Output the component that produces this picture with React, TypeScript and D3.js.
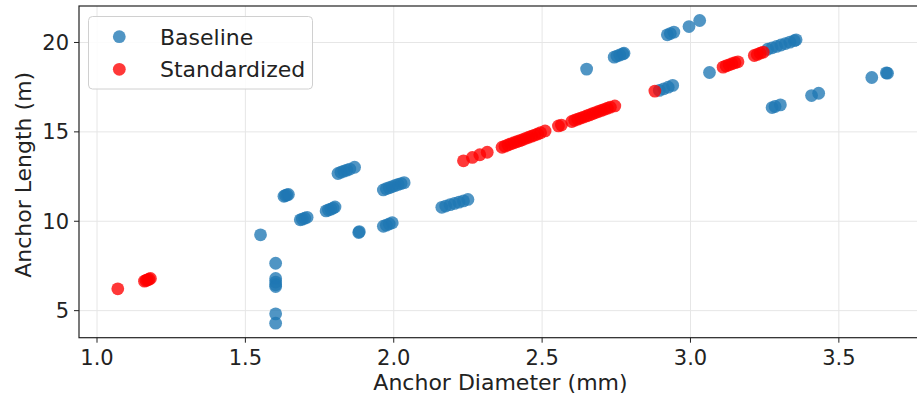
import React from "react";
import * as d3 from "d3";

const baselineX = [
  1.551, 1.602, 1.602, 1.602, 1.602, 1.602, 1.602, 1.602,
  1.63, 1.635, 1.64, 1.645,
  1.685, 1.692, 1.7, 1.708,
  1.772, 1.78, 1.788, 1.796, 1.802,
  1.812, 1.822, 1.832, 1.842, 1.852, 1.868,
  1.882, 1.884,
  1.965, 1.975, 1.985, 1.995,
  1.965, 1.975, 1.985, 1.995, 2.005, 2.015, 2.025, 2.035,
  2.162, 2.175, 2.19, 2.205, 2.22, 2.235, 2.25,
  2.65,
  2.743, 2.752, 2.762, 2.772, 2.776,
  2.922, 2.932, 2.944,
  2.995, 3.031,
  2.895, 2.91, 2.925, 2.94,
  3.064,
  3.26, 3.275, 3.29, 3.305, 3.32, 3.335, 3.35, 3.356,
  3.275, 3.285, 3.303,
  3.408, 3.432,
  3.611, 3.66, 3.664,
];
const baselineY = [
  9.24, 7.65, 6.8, 6.6, 6.45, 6.35, 4.82, 4.3,
  11.4, 11.44, 11.47, 11.5,
  10.08, 10.12, 10.17, 10.22,
  10.58, 10.63, 10.68, 10.74, 10.8,
  12.67, 12.74, 12.8, 12.86, 12.92, 13.02,
  9.37, 9.42,
  9.72, 9.78, 9.85, 9.92,
  11.75, 11.82, 11.88, 11.94, 12.0, 12.06, 12.11, 12.16,
  10.78, 10.85, 10.93, 11.0, 11.07, 11.14, 11.22,
  18.51,
  19.18, 19.24, 19.3, 19.36, 19.4,
  20.43, 20.5, 20.58,
  20.89, 21.23,
  17.32, 17.41, 17.5, 17.6,
  18.32,
  19.62, 19.7, 19.78, 19.86, 19.94, 20.02, 20.1, 20.15,
  16.36, 16.42, 16.51,
  17.03, 17.16,
  18.04, 18.3, 18.28,
];

const standardizedX = [
  1.07,
  1.16, 1.165, 1.17, 1.175, 1.18,
  2.235, 2.265, 2.29, 2.315,
  2.365, 2.375, 2.385, 2.395, 2.405, 2.415, 2.425, 2.435, 2.445, 2.455, 2.465, 2.475, 2.485, 2.495, 2.51,
  2.555, 2.565,
  2.6, 2.61, 2.62, 2.63, 2.64, 2.65, 2.66, 2.67, 2.68, 2.69, 2.7, 2.71, 2.72, 2.73, 2.745,
  2.88,
  3.11, 3.12, 3.13, 3.14, 3.15, 3.16,
  3.215, 3.225, 3.235, 3.245,
];
const standardizedY = [
  6.22,
  6.65, 6.69, 6.72, 6.76, 6.8,
  13.38, 13.57, 13.72, 13.86,
  14.14, 14.2, 14.27, 14.33, 14.39, 14.45, 14.51, 14.57, 14.64, 14.7, 14.76, 14.82, 14.88, 14.95, 15.05,
  15.33, 15.38,
  15.58, 15.65, 15.71, 15.77, 15.83, 15.89, 15.95, 16.02, 16.08, 16.14, 16.2, 16.26, 16.32, 16.38, 16.45,
  17.28,
  18.62, 18.69, 18.75, 18.81, 18.87, 18.92,
  19.27, 19.33, 19.4, 19.46,
];

const xTicks = [1.0, 1.5, 2.0, 2.5, 3.0, 3.5];
const yTicks = [5, 10, 15, 20];
const seriesNames = ["Baseline", "Standardized"];

const W = 917;
const H = 398;
const L = 79;
const R = 926;
const T = 6;
const B = 337.7;
const FONT = "'DejaVu Sans', sans-serif";
const BLUE = "#1f77b4";
const RED = "#ff0000";
const ALPHA = 0.78;
const RAD = 6.4;
const TICK_FS = 21;
const LABEL_FS = 22;

export default function App() {
  const x = d3.scaleLinear().domain([0.9393, 3.7937]).range([L, R]);
  const y = d3.scaleLinear().domain([3.487, 22.04]).range([B, T]);
  const base = baselineX.map((v, i) => [v, baselineY[i]]);
  const std = standardizedX.map((v, i) => [v, standardizedY[i]]);
  return (
    <svg width={W} height={H} style={{ position: "absolute", left: 0, top: 0, background: "#fff" }} fontFamily={FONT}>
      <rect x={0} y={0} width={W} height={H} fill="#fff" />
      {xTicks.map((t) => (
        <line key={"gx" + t} x1={x(t)} x2={x(t)} y1={T} y2={B} stroke="#e6e6e6" strokeWidth={1} />
      ))}
      {yTicks.map((t) => (
        <line key={"gy" + t} x1={L} x2={R} y1={y(t)} y2={y(t)} stroke="#e6e6e6" strokeWidth={1} />
      ))}
      {base.map((d, i) => (
        <circle key={"b" + i} cx={x(d[0])} cy={y(d[1])} r={RAD} fill={BLUE} fillOpacity={ALPHA} />
      ))}
      {std.map((d, i) => (
        <circle key={"s" + i} cx={x(d[0])} cy={y(d[1])} r={RAD} fill={RED} fillOpacity={ALPHA} />
      ))}
      <rect x={L} y={T} width={R - L} height={B - T} fill="none" stroke="#222" strokeWidth={1.2} />
      {xTicks.map((t) => (
        <g key={"xt" + t}>
          <line x1={x(t)} x2={x(t)} y1={B} y2={B + 5} stroke="#222" strokeWidth={1} />
          <text x={x(t)} y={B + 27.5} textAnchor="middle" fontSize={TICK_FS} fill="#222">
            {t.toFixed(1)}
          </text>
        </g>
      ))}
      {yTicks.map((t) => (
        <g key={"yt" + t}>
          <line x1={L - 5} x2={L} y1={y(t)} y2={y(t)} stroke="#222" strokeWidth={1} />
          <text x={L - 10} y={y(t)} dy="0.36em" textAnchor="end" fontSize={TICK_FS} fill="#222">
            {t}
          </text>
        </g>
      ))}
      <text x={(L + R) / 2 - 2} y={390} textAnchor="middle" fontSize={LABEL_FS} fill="#222">
        Anchor Diameter (mm)
      </text>
      <text transform={`translate(31,${(T + B) / 2 + 3}) rotate(-90)`} textAnchor="middle" fontSize={LABEL_FS} fill="#222">
        Anchor Length (m)
      </text>
      <rect x={88.5} y={16.5} width={224} height={72.5} rx={4} fill="#fff" fillOpacity={0.85} stroke="#d0d0d0" strokeWidth={1} />
      {seriesNames.map((n, i) => (
        <g key={n}>
          <circle cx={119.3} cy={36.7 + i * 32.6} r={RAD} fill={i === 0 ? BLUE : RED} fillOpacity={ALPHA} />
          <text x={160} y={36.7 + i * 32.6} dy="0.36em" fontSize={LABEL_FS} fill="#222">
            {n}
          </text>
        </g>
      ))}
    </svg>
  );
}
